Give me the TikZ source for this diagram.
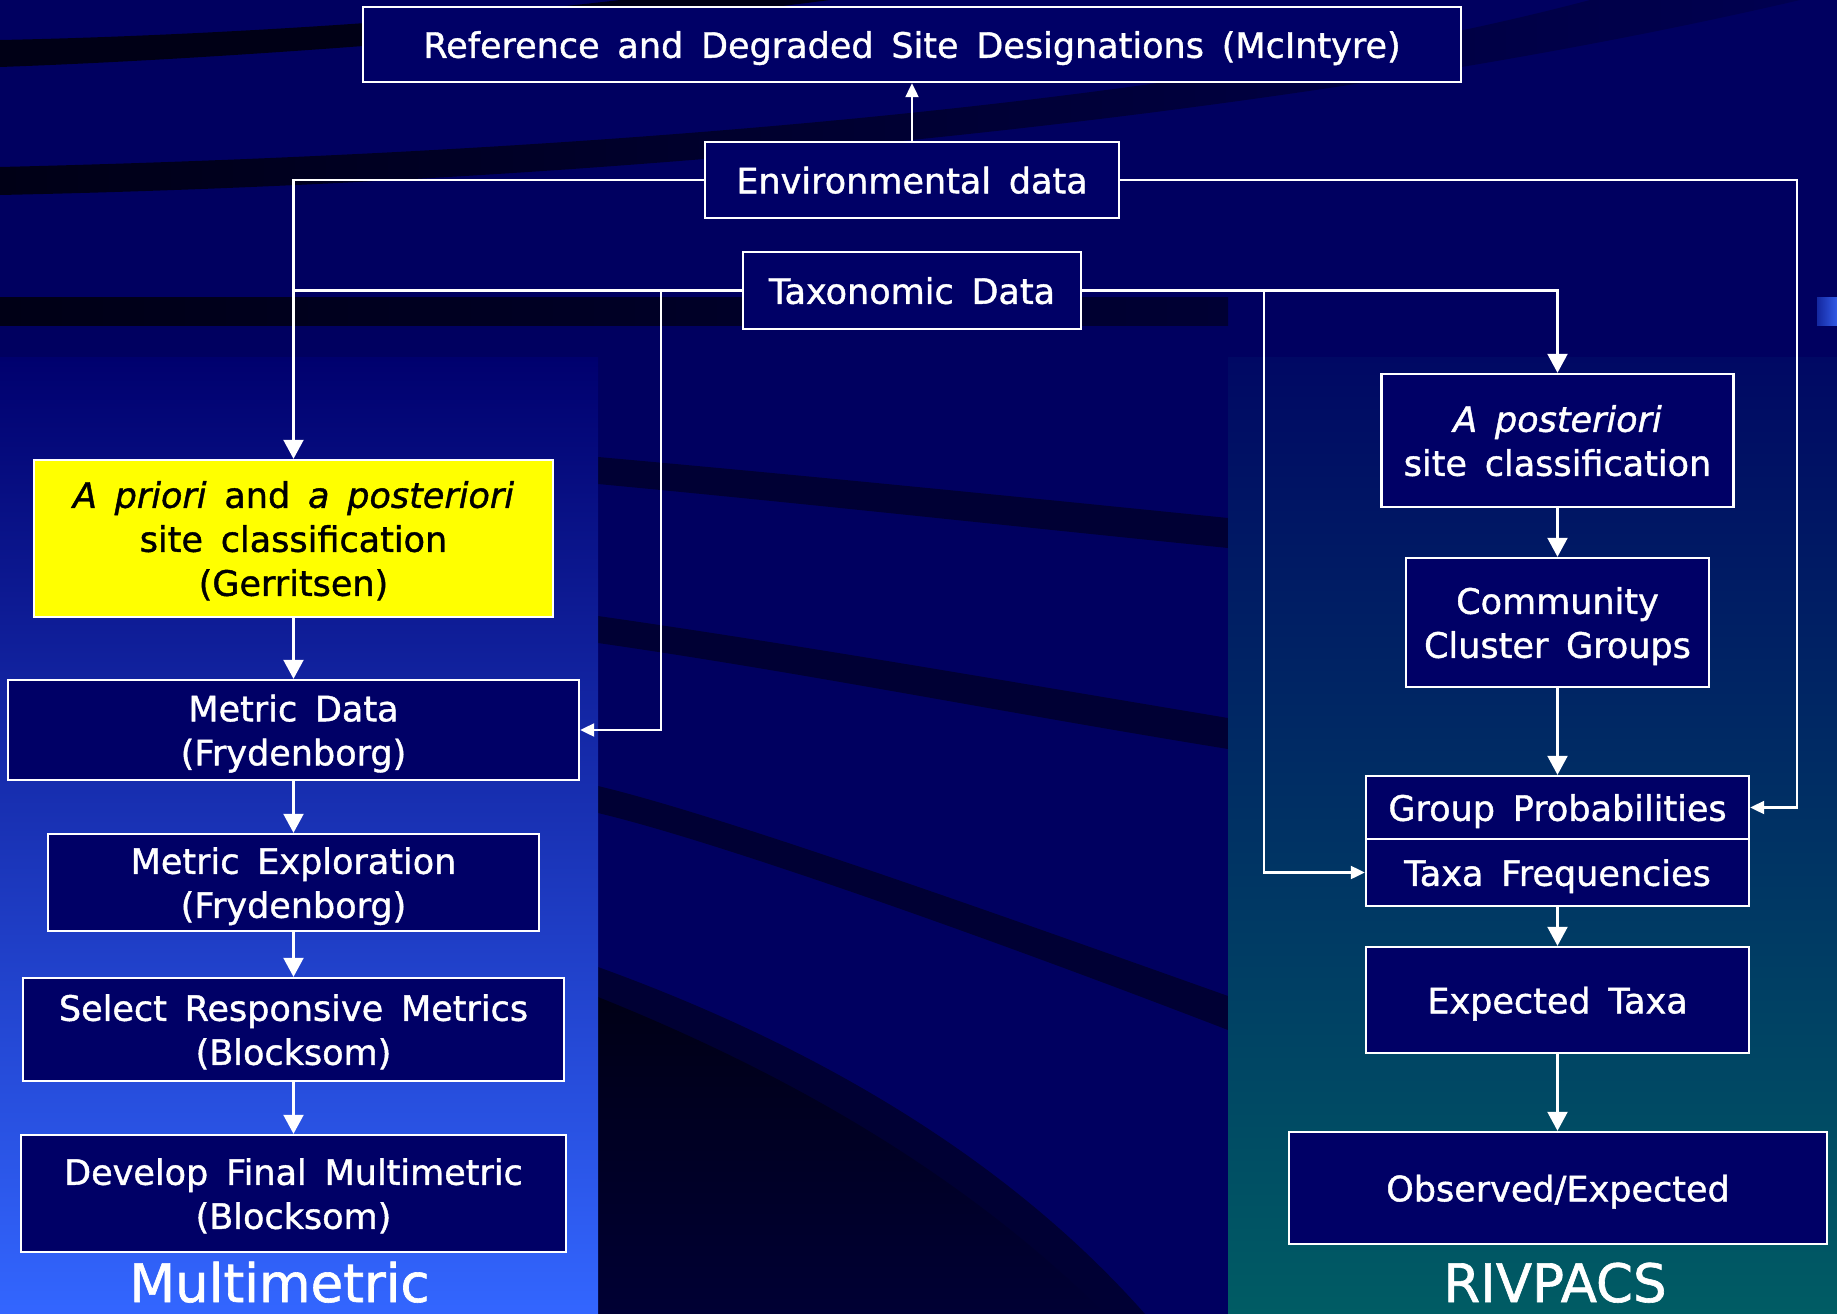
\documentclass[tikz,border=0pt]{standalone}
\usepackage{fontspec}
\setmainfont[WordSpace=1.6,FakeBold=1.2]{DejaVu Sans}
\usetikzlibrary{arrows.meta}
\definecolor{bgnavy}{RGB}{0,0,96}
\definecolor{boxnavy}{RGB}{0,0,102}
\definecolor{bandc}{RGB}{0,0,52}
\definecolor{deep}{RGB}{0,0,22}
\definecolor{fadeband}{RGB}{0,0,80}
\definecolor{lefttop}{RGB}{0,0,110}
\definecolor{leftbot}{RGB}{51,102,255}
\definecolor{righttop}{RGB}{0,8,100}
\definecolor{rightbot}{RGB}{0,92,100}
\definecolor{boxyellow}{RGB}{255,255,0}
\definecolor{tabl}{RGB}{20,40,160}
\definecolor{tabr}{RGB}{50,90,230}
\tikzset{
  flowbox/.style={draw=white, line width=2.4pt, fill=boxnavy, text=white, align=center,
    inner sep=0pt, text depth=0pt, font=\fontsize{35}{44}\selectfont},
  yellowbox/.style={flowbox, fill=boxyellow, text=black},
  conn/.style={draw=white, line width=2.2pt},
  bigarr/.style={conn, -{Triangle[length=19pt,width=20pt]}},
  smallarr/.style={conn, -{Triangle[length=14pt,width=13pt]}},
  paneltitle/.style={text=white, inner sep=0pt, anchor=base, font=\fontsize{53}{60}\selectfont}
}
\begin{document}
\begin{tikzpicture}[x=1pt,y=-1pt]
\useasboundingbox (0,0) rectangle (1837,1314);
\clip (0,0) rectangle (1837,1314);
% background
\fill[bgnavy] (0,0) rectangle (1837,1314);
\fill[deep] (0,40) .. controls (200,36) and (450,20) .. (620,0) -- (830,0) .. controls (600,30) and (250,58) .. (0,67) -- cycle;
\shade[left color=deep, right color=fadeband] (0,167) .. controls (700,150) and (1250,90) .. (1590,0) -- (1800,0) .. controls (1350,105) and (700,180) .. (0,195) -- cycle;
\shade[left color=deep, right color=bandc] (0,297) rectangle (1228,325);
\shade[left color=tabl, right color=tabr] (1817,297) rectangle (1837,325);
\fill[bandc] (598,457) .. controls (800,475) and (1000,495) .. (1228,518) -- (1228,548) .. controls (1000,525) and (800,503) .. (598,484) -- cycle;
\fill[bandc] (598,616) .. controls (800,645) and (1000,680) .. (1228,718) -- (1228,749) .. controls (1000,712) and (800,672) .. (598,643) -- cycle;
\fill[bandc] (598,786) .. controls (720,815) and (1000,915) .. (1228,996) -- (1228,1030) .. controls (1000,942) and (720,842) .. (598,813) -- cycle;
\fill[bandc] (598,967) .. controls (800,1040) and (1000,1150) .. (1145,1314) -- (598,1314) -- cycle;
\shade[top color=deep, bottom color=bandc] (598,997) .. controls (780,1070) and (960,1170) .. (1105,1314) -- (598,1314) -- cycle;
% panels
\shade[top color=lefttop, bottom color=leftbot] (0,357) rectangle (598,1314);
\shade[top color=righttop, bottom color=rightbot] (1228,357) rectangle (1837,1314);

% top nodes
\node[flowbox, minimum width=1098pt, minimum height=75pt] (ref) at (912,44.5)
  {Reference and Degraded Site Designations (McIntyre)};
\node[flowbox, minimum width=414pt, minimum height=76pt] (env) at (912,180) {Environmental data};
\node[flowbox, minimum width=338pt, minimum height=77pt] (tax) at (912,290.5) {Taxonomic Data};

% multimetric column
\node[yellowbox, minimum width=519pt, minimum height=157pt] (cls) at (293.5,538.5)
  {{\itshape A priori} and {\itshape a posteriori}\\site classification\\(Gerritsen)};
\node[flowbox, minimum width=571pt, minimum height=100pt] (md) at (293.5,730) {Metric Data\\(Frydenborg)};
\node[flowbox, minimum width=491pt, minimum height=97pt] (me) at (293.5,882.5) {Metric Exploration\\(Frydenborg)};
\node[flowbox, minimum width=541pt, minimum height=103pt] (srm) at (293.5,1029.5) {Select Responsive Metrics\\(Blocksom)};
\node[flowbox, minimum width=545pt, minimum height=117pt] (dfm) at (293.5,1193.5) {Develop Final Multimetric\\(Blocksom)};
\node[paneltitle] (mm) at (279.5,1302) {Multimetric};

% RIVPACS column
\node[flowbox, minimum width=352pt, minimum height=133pt] (apost) at (1557.5,440.5) {{\itshape A posteriori}\\site classification};
\node[flowbox, minimum width=303pt, minimum height=129pt] (ccg) at (1557.5,622.5) {Community\\Cluster Groups};
\node[flowbox, minimum width=383pt, minimum height=63pt] (gp) at (1557.5,807.5) {Group Probabilities};
\node[flowbox, minimum width=383pt, minimum height=67pt] (tf) at (1557.5,872.5) {Taxa Frequencies};
\node[flowbox, minimum width=383pt, minimum height=106pt] (et) at (1557.5,1000) {Expected Taxa};
\node[flowbox, minimum width=538pt, minimum height=112pt] (oe) at (1558,1188) {Observed/Expected};
\node[paneltitle] (riv) at (1555,1302) {RIVPACS};

% connectors
\coordinate (tl) at (661,290.5);
\coordinate (tr) at (1264,290.5);
\coordinate (er) at (1797,180);
\draw[smallarr] (env.north) -- (ref.south);
\draw[bigarr] (env.west) -| (cls.north);
\draw[conn] (tax.west) -- (tax.west -| cls.north);
\draw[smallarr] (tl) |- (md.east);
\draw[bigarr] (tax.east) -| (apost.north);
\draw[smallarr] (tr) |- (tf.west);
\draw[smallarr] (env.east) -- (er) |- (gp.east);
\draw[bigarr] (cls.south) -- (md.north);
\draw[bigarr] (md.south) -- (me.north);
\draw[bigarr] (me.south) -- (srm.north);
\draw[bigarr] (srm.south) -- (dfm.north);
\draw[bigarr] (apost.south) -- (ccg.north);
\draw[bigarr] (ccg.south) -- (gp.north);
\draw[bigarr] (tf.south) -- (et.north);
\draw[bigarr] (et.south) -- (et.south |- oe.north);
\end{tikzpicture}
\end{document}
